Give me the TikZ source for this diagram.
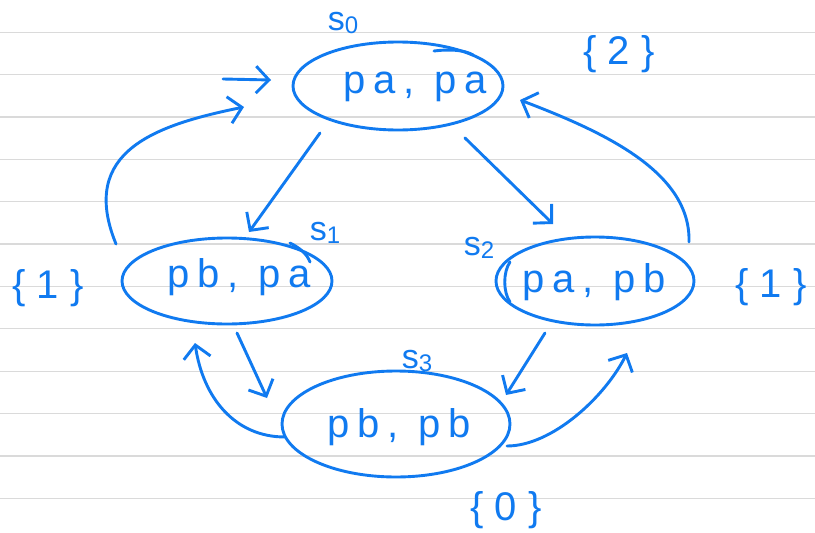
\documentclass[tikz,border=0pt]{standalone}
\usepackage{fontspec}
\setmainfont{Liberation Sans}
\newfontfamily\hand[LetterSpace=20]{Liberation Sans}
\newfontfamily\handwide[LetterSpace=28]{Liberation Sans}
\usetikzlibrary{arrows.meta,shapes.geometric,calc}
\definecolor{ink}{RGB}{16,122,240}
\definecolor{rulegrey}{RGB}{218,218,218}
\begin{document}
\begin{tikzpicture}[x=1pt,y=-1pt,
  st/.style={ellipse, draw=ink, line width=2.9pt, inner sep=0pt, outer sep=0pt},
  arr/.style={draw=ink, line width=2.9pt, line cap=round, line join=round,
    -{Straight Barb[length=13pt,width=27pt]}},
  txt/.style={text=ink, font=\hand\fontsize{40}{40}\selectfont, anchor=base, inner sep=0pt},
  lbl/.style={text=ink, font=\hand\fontsize{34}{34}\selectfont, anchor=base, inner sep=0pt},
  vallbl/.style={text=ink, font=\handwide\fontsize{40}{40}\selectfont, anchor=base, inner sep=0pt},
  stroke/.style={draw=ink, line width=2.9pt, line cap=round},
  ruleline/.style={draw=rulegrey, line width=1.3pt}]
\fill[white] (0,0) rectangle (815,533);
\useasboundingbox (0,0) rectangle (815,533);
\foreach \k in {0,...,11} \draw[ruleline] (0,{32.3+42.36*\k}) -- (815,{32.3+42.36*\k});
% states
\node[st, minimum width=210pt, minimum height=88pt] (s0) at (398,86) {};
\node[st, minimum width=210pt, minimum height=86pt] (s1) at (227,281) {};
\node[st, minimum width=198pt, minimum height=88pt] (s2) at (595,281) {};
\node[st, minimum width=228pt, minimum height=106pt] (s3) at (396,424) {};
% texts in states
\node[txt] (t0) at (415,93) {pa, pa};
\node[txt] (t1) at (239,287) {pb, pa};
\node[txt] (t2) at (594,292) {pa, pb};
\node[txt] (t3) at (399,437) {pb, pb};
% state names
\node[lbl] (l0) at (343,30) {s\raisebox{-3pt}{\fontsize{24}{24}\selectfont 0}};
\node[lbl] (l1) at (325,240) {s\raisebox{-3pt}{\fontsize{24}{24}\selectfont 1}};
\node[lbl] (l2) at (479,255) {s\raisebox{-3pt}{\fontsize{24}{24}\selectfont 2}};
\node[lbl] (l3) at (417,368) {s\raisebox{-3pt}{\fontsize{24}{24}\selectfont 3}};
% values
\node[vallbl] (v0) at (619,64) {\{2\}};
\node[vallbl] (v1) at (48,298) {\{1\}};
\node[vallbl] (v2) at (771,297) {\{1\}};
\node[vallbl] (v3) at (506,520) {\{0\}};
% extra pen strokes
\draw[stroke] (434,51) .. controls (450,49) and (465,50) .. (473,55);
\draw[stroke] (290,243) .. controls (300,248) and (307,254) .. (310,262);
\draw[stroke] (510,262) .. controls (503,272) and (503,292) .. (510,302);
% connectors
\coordinate (init) at (223,79);
\draw[arr] (init) -- ($(s0.west)+(-22,-6)$);
\draw[arr] ($(s1.west)+(-6,-37)$) .. controls +(-38,-93) and +(-88,18) .. ($(s0.west)+(-49,21)$);
\draw[arr] ($(s0.south)+(-78,3)$) -- ($(s1.north)+(22,-6)$);
\draw[arr] ($(s0.south)+(67,8)$) -- ($(s2.north)+(-42,-13)$);
\draw[arr] ($(s2.east)+(-5,-39)$) .. controls +(2,-70) and +(84,32) .. ($(s0.east)+(17,14)$);
\draw[arr] ($(s3.west)+(3,13)$) .. controls +(-50,0) and +(8,55) .. ($(s1.south)+(-32,19)$);
\draw[arr] ($(s1.south)+(10,9)$) -- ($(s3.west)+(-15,-26)$);
\draw[arr] ($(s2.south)+(-50,8)$) -- ($(s3.east)+(-4,-29)$);
\draw[arr] ($(s3.east)+(-3,22)$) .. controls +(45,0) and +(-22,44) .. ($(s2.south)+(32,28)$);
\end{tikzpicture}
\end{document}
